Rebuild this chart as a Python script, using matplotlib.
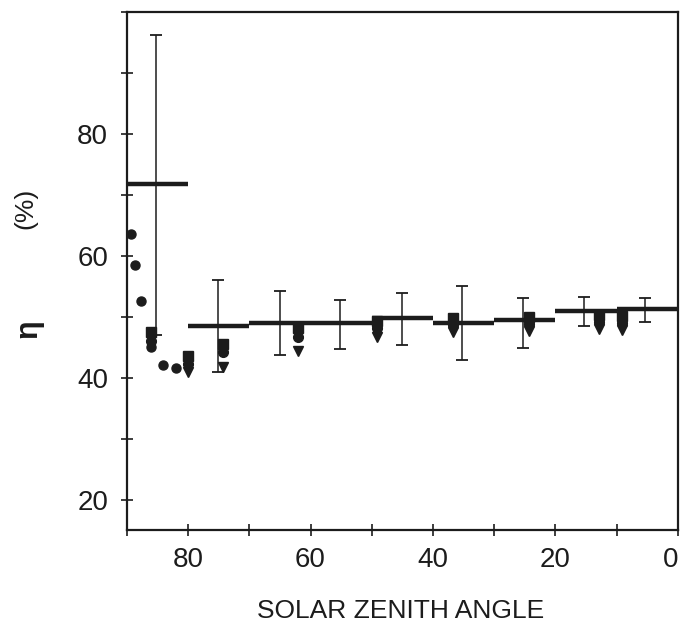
import numpy as np
import matplotlib.pyplot as plt
from matplotlib.ticker import MultipleLocator

plt.rcParams['font.family'] = ['Liberation Sans', 'DejaVu Sans']

# mean efficiency per zenith-angle bin (thick step line)
bin_edges = [90, 80, 70, 50, 40, 30, 20, 10, 0]
bin_mean = [71.7, 48.4, 49.0, 49.7, 49.0, 49.5, 50.9, 51.3]

# error bars (range of values in each bin)
eb_x = [85.2, 75.1, 65.0, 55.2, 45.1, 35.3, 25.3, 15.4, 5.4]
eb_hi = [96.2, 56.0, 54.2, 52.7, 53.8, 55.0, 53.0, 53.3, 53.0]
eb_lo = [47.0, 41.0, 43.7, 44.7, 45.4, 42.9, 44.8, 48.5, 49.1]

# single circles
dot_x = [89.3, 88.6, 87.7, 86.0, 84.1, 81.9]
dot_y = [63.5, 58.5, 52.5, 45.0, 42.1, 41.6]

# stacked markers (square / circle / triangle) at each group
grp_x = [86.0, 80.0, 74.3, 62.0, 49.2, 36.8, 24.3, 12.9, 9.2]
sq_y = [47.5, 43.5, 45.5, 48.1, 49.3, 49.8, 49.9, 50.3, 50.1]
circ_y = [46.0, 42.2, 44.2, 46.7, 48.1, 48.6, 48.8, 49.1, 49.0]
tri_y = [np.nan, 40.9, 41.8, 44.4, 46.7, 47.5, 47.7, 48.0, 47.8]

x_ticks = [80, 60, 40, 20, 0]
y_ticks = [20, 40, 60, 80]

ink = '#1c1c1c'

fig = plt.figure(figsize=(6.82, 6.25), dpi=100)
ax = fig.add_axes([0.186, 0.152, 0.808, 0.829])

# step line without vertical joins
ax.hlines(bin_mean, bin_edges[:-1], bin_edges[1:], colors=ink, linewidth=3.2)

# error bars
eb_x = np.array(eb_x)
eb_hi = np.array(eb_hi)
eb_lo = np.array(eb_lo)
mid = (eb_hi + eb_lo) / 2
half = (eb_hi - eb_lo) / 2
ax.errorbar(eb_x, mid, yerr=half, fmt='none', ecolor=ink, elinewidth=1.1,
            capsize=4, capthick=1.3)

# markers
ax.plot(grp_x, tri_y, 'v', color=ink, markersize=7.5, linestyle='none')
ax.plot(grp_x, sq_y, 's', color=ink, markersize=7, linestyle='none')
ax.plot(grp_x, circ_y, 'o', color=ink, markersize=7, linestyle='none')
ax.plot(dot_x, dot_y, 'o', color=ink, markersize=6.5, linestyle='none')

ax.set_xlim(90, 0)
ax.set_ylim(15, 100)

ax.set_xticks(x_ticks)
ax.xaxis.set_minor_locator(MultipleLocator(10))
ax.set_yticks(y_ticks)
ax.yaxis.set_minor_locator(MultipleLocator(10))

ax.tick_params(which='both', direction='inout', length=9, width=1.2,
               color=ink, labelsize=20, labelcolor=ink)
ax.tick_params(axis='x', pad=7.5)
ax.tick_params(axis='y', pad=9)
ax.tick_params(top=False, right=False, which='both')

# keep the "0" at the right end inside the picture
ax.xaxis.get_major_ticks()[-1].label1.set_horizontalalignment('right')

for s in ax.spines.values():
    s.set_linewidth(1.6)
    s.set_color(ink)

fig.text(0.587, 0.012, 'SOLAR ZENITH ANGLE', ha='center', va='baseline',
         fontsize=19, color=ink)
fig.text(0.041, 0.474, 'η', rotation=90, ha='center', va='center',
         fontsize=22, color=ink, fontweight='bold')
fig.text(0.037, 0.667, '(%)', rotation=90, ha='center', va='center',
         fontsize=19, color=ink)

fig.savefig('out.png', dpi=100)
